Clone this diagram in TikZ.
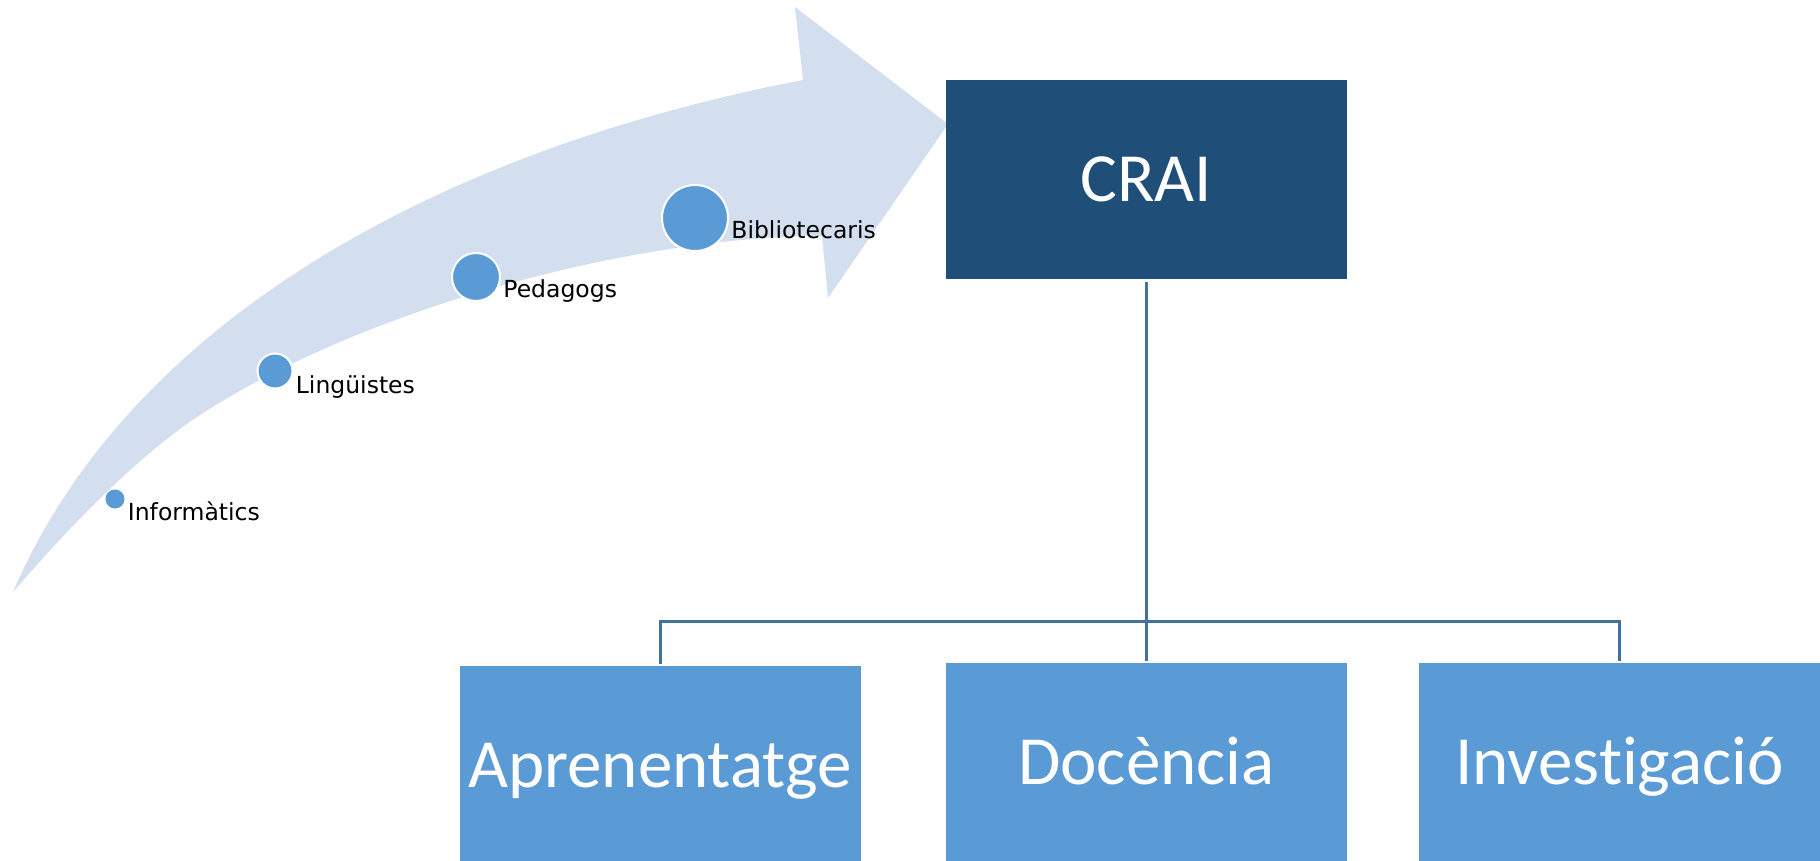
\documentclass[tikz,border=0pt]{standalone}
\usepackage{fontspec}
\setmainfont{DejaVu Sans}
\newfontfamily\boxfont[Ligatures=NoCommon]{Carlito}
\usetikzlibrary{positioning}
\definecolor{arrowfill}{HTML}{D3DEEF}
\definecolor{dotblue}{HTML}{5B9BD5}
\definecolor{craiblue}{HTML}{1F4E79}
\definecolor{linkblue}{HTML}{41719C}

\begin{document}
\begin{tikzpicture}[x=0.5pt,y=-0.5pt,
    dot/.style={circle, fill=dotblue, draw=white, line width=1pt, inner sep=0pt},
    who/.style={anchor=base west, inner sep=0pt, font=\fontsize{11.75}{14}\selectfont},
    area/.style={rectangle, fill=dotblue, anchor=north, minimum width=200.5pt, minimum height=99.5pt,
                 inner sep=0pt, text=white, text height=21.8pt, text depth=0pt,
                 font=\boxfont\fontsize{34.5}{41}\selectfont},
    link/.style={draw=linkblue, line width=1.5pt, shorten <=1pt, shorten >=1pt}]
            \useasboundingbox (0,0) rectangle (1820,861);
            \clip (0,0) rectangle (1820,861);

            % the curved arrow
            \fill[arrowfill] (13,592) .. controls (130,320) and (440,150) .. (803,80)
              -- (795,7) -- (948,124) -- (828,298) -- (822,236)
              .. controls (650,236) and (380,300) .. (203,413)
              .. controls (133,458) and (58,540) .. (13,592) -- cycle;

            % the dots and their labels
            \node[dot, draw=none, minimum size=9.5pt] (inf) at (115,499) {};
            \node[dot, minimum size=17.5pt] (ling) at (275,371) {};
            \node[dot, minimum size=24pt] (ped) at (476,277) {};
            \node[dot, minimum size=33pt] (bib) at (695,218) {};
            \node[who] (infname) at ([xshift=1pt,yshift=-10.5pt]inf.east) {Informàtics};
            \node[who] (lingname) at ([xshift=1pt,yshift=-11pt]ling.east) {Lingüistes};
            \node[who] (pedname) at ([xshift=1pt,yshift=-10.5pt]ped.east) {Pedagogs};
            \node[who] (bibname) at ([xshift=1pt,yshift=-10.5pt]bib.east) {Bibliotecaris};

            % the boxes
            \node[area, fill=craiblue] (crai) at (1146.5,80) {CRAI};
            \node[area] (apr) at (660,666) {Aprenentatge};
            \node[area] (doc) at (1146.5,663) {Docència};
            \node[area] (inv) at (1619.5,663) {Investigació};

            % the tree lines
            \coordinate (fork) at (1146.5,621);
            \draw[link] (crai) -- (doc);
            \draw[link, shorten <=0pt] (fork) -| (apr);
            \draw[link, shorten <=0pt] (fork) -| (inv);
        \end{tikzpicture}
\end{document}
